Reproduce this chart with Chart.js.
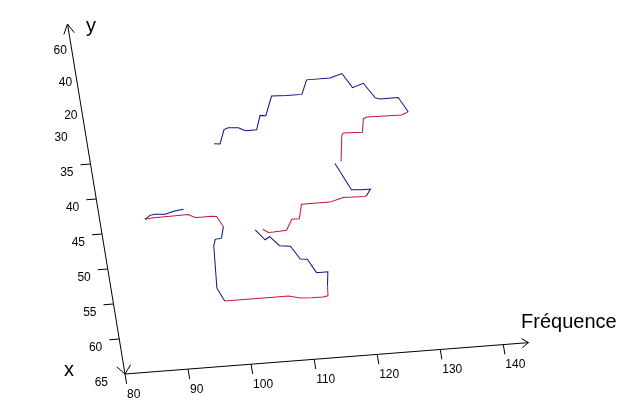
<!DOCTYPE html>
<html>
<head>
<meta charset="utf-8">
<script src="https://cdn.jsdelivr.net/npm/chart.js@4.4.1/dist/chart.umd.min.js"></script>
<style>
  html, body { margin: 0; padding: 0; background: #fff; }
  #grafico { display: block; }
</style>
</head>
<body>
<canvas id="grafico" width="638" height="412"></canvas>
<script>
// valeurs (null = coupure de la courbe)
var blueFreq = [93.4, 92.3, 91.7, 90.4, 88.8, 88.0, 87.1, null,
    99.2, 98.6, 97.6, 97.2, 96.6, 97.3, 97.5, null,
    114.0, 114.4, 112.6, 111.5, 110.4, 109.2, 107.5, 106.2, 105.4, 104.1, null,
    122.4, 123.2, 121.8, 120.2, 118.3, null,
    131.1, 129.9, 127.0, 126.3, 124.8, 123.0, 121.7, 119.7, 116.0, 114.9, 112.5, 110.1, 108.7, 107.8, 106.9, 105.1, 104.1, 102.5, 101.8, 100.8, 99.9];
var blueX = [42.4, 42.5, 42.6, 42.9, 42.8, 42.9, 43.4, null,
    45.3, 46.9, 47.0, 47.9, 53.9, 55.4, 55.8, null,
    54.7, 52.8, 52.8, 50.8, 50.7, 48.8, 48.6, 47.2, 47.6, 46.1, null,
    42.5, 41.6, 41.6, 41.5, 37.6, null,
    31.1, 29.0, 29.0, 28.8, 26.6, 27.1, 25.0, 25.5, 25.5, 27.5, 27.5, 27.4, 30.1, 30.0, 32.0, 32.0, 31.5, 31.4, 31.6, 33.6, 33.5];
var redFreq = [87.1, 88.2, 94.0, 95.0, 95.8, 97.6, 98.4, 99.2, null,
    97.5, 101.0, 105.2, 107.6, 109.4, 111.2, 113.0, 113.8, 114.0, null,
    105.3, 106.1, 106.9, 109.0, 110.1, 111.3, 112.0, 116.5, 117.9, 118.7, 122.1, 122.4, null,
    119.3, 120.1, 120.4, 123.4, 123.9, 124.5, 130.0, 131.1];
var redX = [43.4, 43.3, 43.2, 43.7, 43.7, 43.7, 43.8, 45.3, null,
    55.8, 55.8, 55.8, 55.8, 56.2, 56.3, 56.3, 56.2, 54.7, null,
    46.1, 46.6, 46.6, 46.5, 45.0, 45.0, 43.0, 43.0, 42.7, 42.5, 42.6, 42.5, null,
    37.4, 33.7, 33.4, 33.5, 31.6, 31.4, 31.5, 31.1];

var freqTicks = [80, 90, 100, 110, 120, 130, 140];
var xTicks = [30, 35, 40, 45, 50, 55, 60, 65];
var yTicks = [20, 40, 60];

// projection "3D" : origine, pas par unite de frequence, pas par unite de x
var O = [125, 374];
var FV = [6.305, -0.49];
var UV = [-1.15, -7.0];
var Y0 = 32.7, YSTEP = 4.65 / 20;   // position des graduations y sur l'axe vertical
var FONT = "12px 'Liberation Sans', Arial, sans-serif";
var BIG = "20px 'Liberation Sans', Arial, sans-serif";

function toPoints(fs, xs) {
    return fs.map(function (f, i) {
        return f === null ? { x: null, y: null } : { x: f, y: xs[i] };
    });
}

function matrice(chart) {
    var xs = chart.scales.x, ys = chart.scales.y;
    var L = xs.getPixelForValue(80), kx = (xs.getPixelForValue(140) - L) / 60;
    var B = ys.getPixelForValue(65), ky = (B - ys.getPixelForValue(15)) / 50;
    var a = FV[0] / kx, b = FV[1] / kx, c = -UV[0] / ky, d = -UV[1] / ky;
    return { a: a, b: b, c: c, d: d, e: O[0] - a * L - c * B, f: O[1] - b * L - d * B };
}

function toScreen(chart, f, v) {
    var m = matrice(chart);
    var px = chart.scales.x.getPixelForValue(f), py = chart.scales.y.getPixelForValue(v);
    return [m.a * px + m.c * py + m.e, m.b * px + m.d * py + m.f];
}

function fleche(ctx, tip, dir, len, ang) {
    var n = Math.hypot(dir[0], dir[1]), ux = dir[0] / n, uy = dir[1] / n;
    [ang, -ang].forEach(function (t) {
        var cs = Math.cos(t), sn = Math.sin(t);
        var bx = -(ux * cs - uy * sn), by = -(ux * sn + uy * cs);
        ctx.beginPath();
        ctx.moveTo(tip[0], tip[1]);
        ctx.lineTo(tip[0] + bx * len, tip[1] + by * len);
        ctx.stroke();
    });
}

var axes3d = {
    id: 'axes3d',
    beforeDatasetsDraw: function (chart) {
        var m = matrice(chart);
        chart.ctx.save();
        chart.ctx.transform(m.a, m.b, m.c, m.d, m.e, m.f);
    },
    afterDatasetsDraw: function (chart) {
        chart.ctx.restore();
    },
    afterDraw: function (chart) {
        var ctx = chart.ctx;
        ctx.save();
        ctx.strokeStyle = '#000';
        ctx.fillStyle = '#000';
        ctx.lineWidth = 1;
        var o = toScreen(chart, 80, 65);
        var fEnd = toScreen(chart, 144, 65);
        var vEnd = toScreen(chart, 80, 15);

        // axe des frequences
        ctx.beginPath(); ctx.moveTo(o[0], o[1]); ctx.lineTo(fEnd[0], fEnd[1]); ctx.stroke();
        fleche(ctx, fEnd, [FV[0], FV[1]], 8, 0.6);
        // axe vertical (x et y)
        ctx.beginPath(); ctx.moveTo(o[0], o[1]); ctx.lineTo(vEnd[0], vEnd[1]); ctx.stroke();
        fleche(ctx, vEnd, [UV[0], UV[1]], 11, 0.5);
        fleche(ctx, o, [-UV[0], -UV[1]], 11, 0.7);

        var dn = Math.hypot(UV[0], UV[1]), down = [-UV[0] / dn, -UV[1] / dn];
        var fn = Math.hypot(FV[0], FV[1]), left = [-FV[0] / fn, -FV[1] / fn];

        ctx.font = FONT;
        ctx.textBaseline = 'middle';
        ctx.textAlign = 'left';
        freqTicks.forEach(function (t) {
            var p = toScreen(chart, t, 65);
            ctx.beginPath(); ctx.moveTo(p[0], p[1]); ctx.lineTo(p[0] + down[0] * 10, p[1] + down[1] * 10); ctx.stroke();
            ctx.fillText(String(t), p[0] + 2, p[1] + 20.5);
        });

        ctx.textAlign = 'right';
        xTicks.forEach(function (t) {
            var p = toScreen(chart, 80, t);
            if (t > 30 && t < 65) {
                ctx.beginPath(); ctx.moveTo(p[0], p[1]); ctx.lineTo(p[0] + left[0] * 10, p[1] + left[1] * 10); ctx.stroke();
            }
            ctx.fillText(String(t), p[0] - 17, p[1] + 8.5);
        });
        yTicks.forEach(function (t) {
            var p = toScreen(chart, 80, Y0 - t * YSTEP);
            ctx.fillText(String(t), p[0] - 5, p[1]);
        });

        ctx.font = BIG;
        ctx.textAlign = 'left';
        ctx.textBaseline = 'alphabetic';
        ctx.fillText('Fréquence', fEnd[0] - 7.5, fEnd[1] - 14.6);
        ctx.fillText('x', o[0] - 61, o[1] + 2);
        ctx.fillText('y', vEnd[0] + 18.5, vEnd[1] + 8);
        ctx.restore();
    }
};

var contexto = document.getElementById('grafico').getContext('2d');
var myChart = new Chart(contexto, {
    type: 'scatter',
    data: {
        datasets: [
            {
                label: 'bleu',
                data: toPoints(blueFreq, blueX),
                borderColor: '#10108a',
                showLine: true,
                spanGaps: false,
                pointRadius: 0,
                borderWidth: 1,
                clip: false
            }, {
                label: 'rouge',
                data: toPoints(redFreq, redX),
                borderColor: '#c41a32',
                showLine: true,
                spanGaps: false,
                pointRadius: 0,
                borderWidth: 1,
                clip: false
            }
        ]
    },
    options: {
        responsive: false,
        animation: false,
        layout: { padding: { left: 125, right: 135, top: 24, bottom: 38 } },
        plugins: { legend: { display: false }, tooltip: { enabled: false } },
        scales: {
            x: { type: 'linear', min: 80, max: 140, display: false },
            y: { type: 'linear', min: 15, max: 65, reverse: true, display: false }
        }
    },
    plugins: [axes3d]
});
</script>
</body>
</html>
